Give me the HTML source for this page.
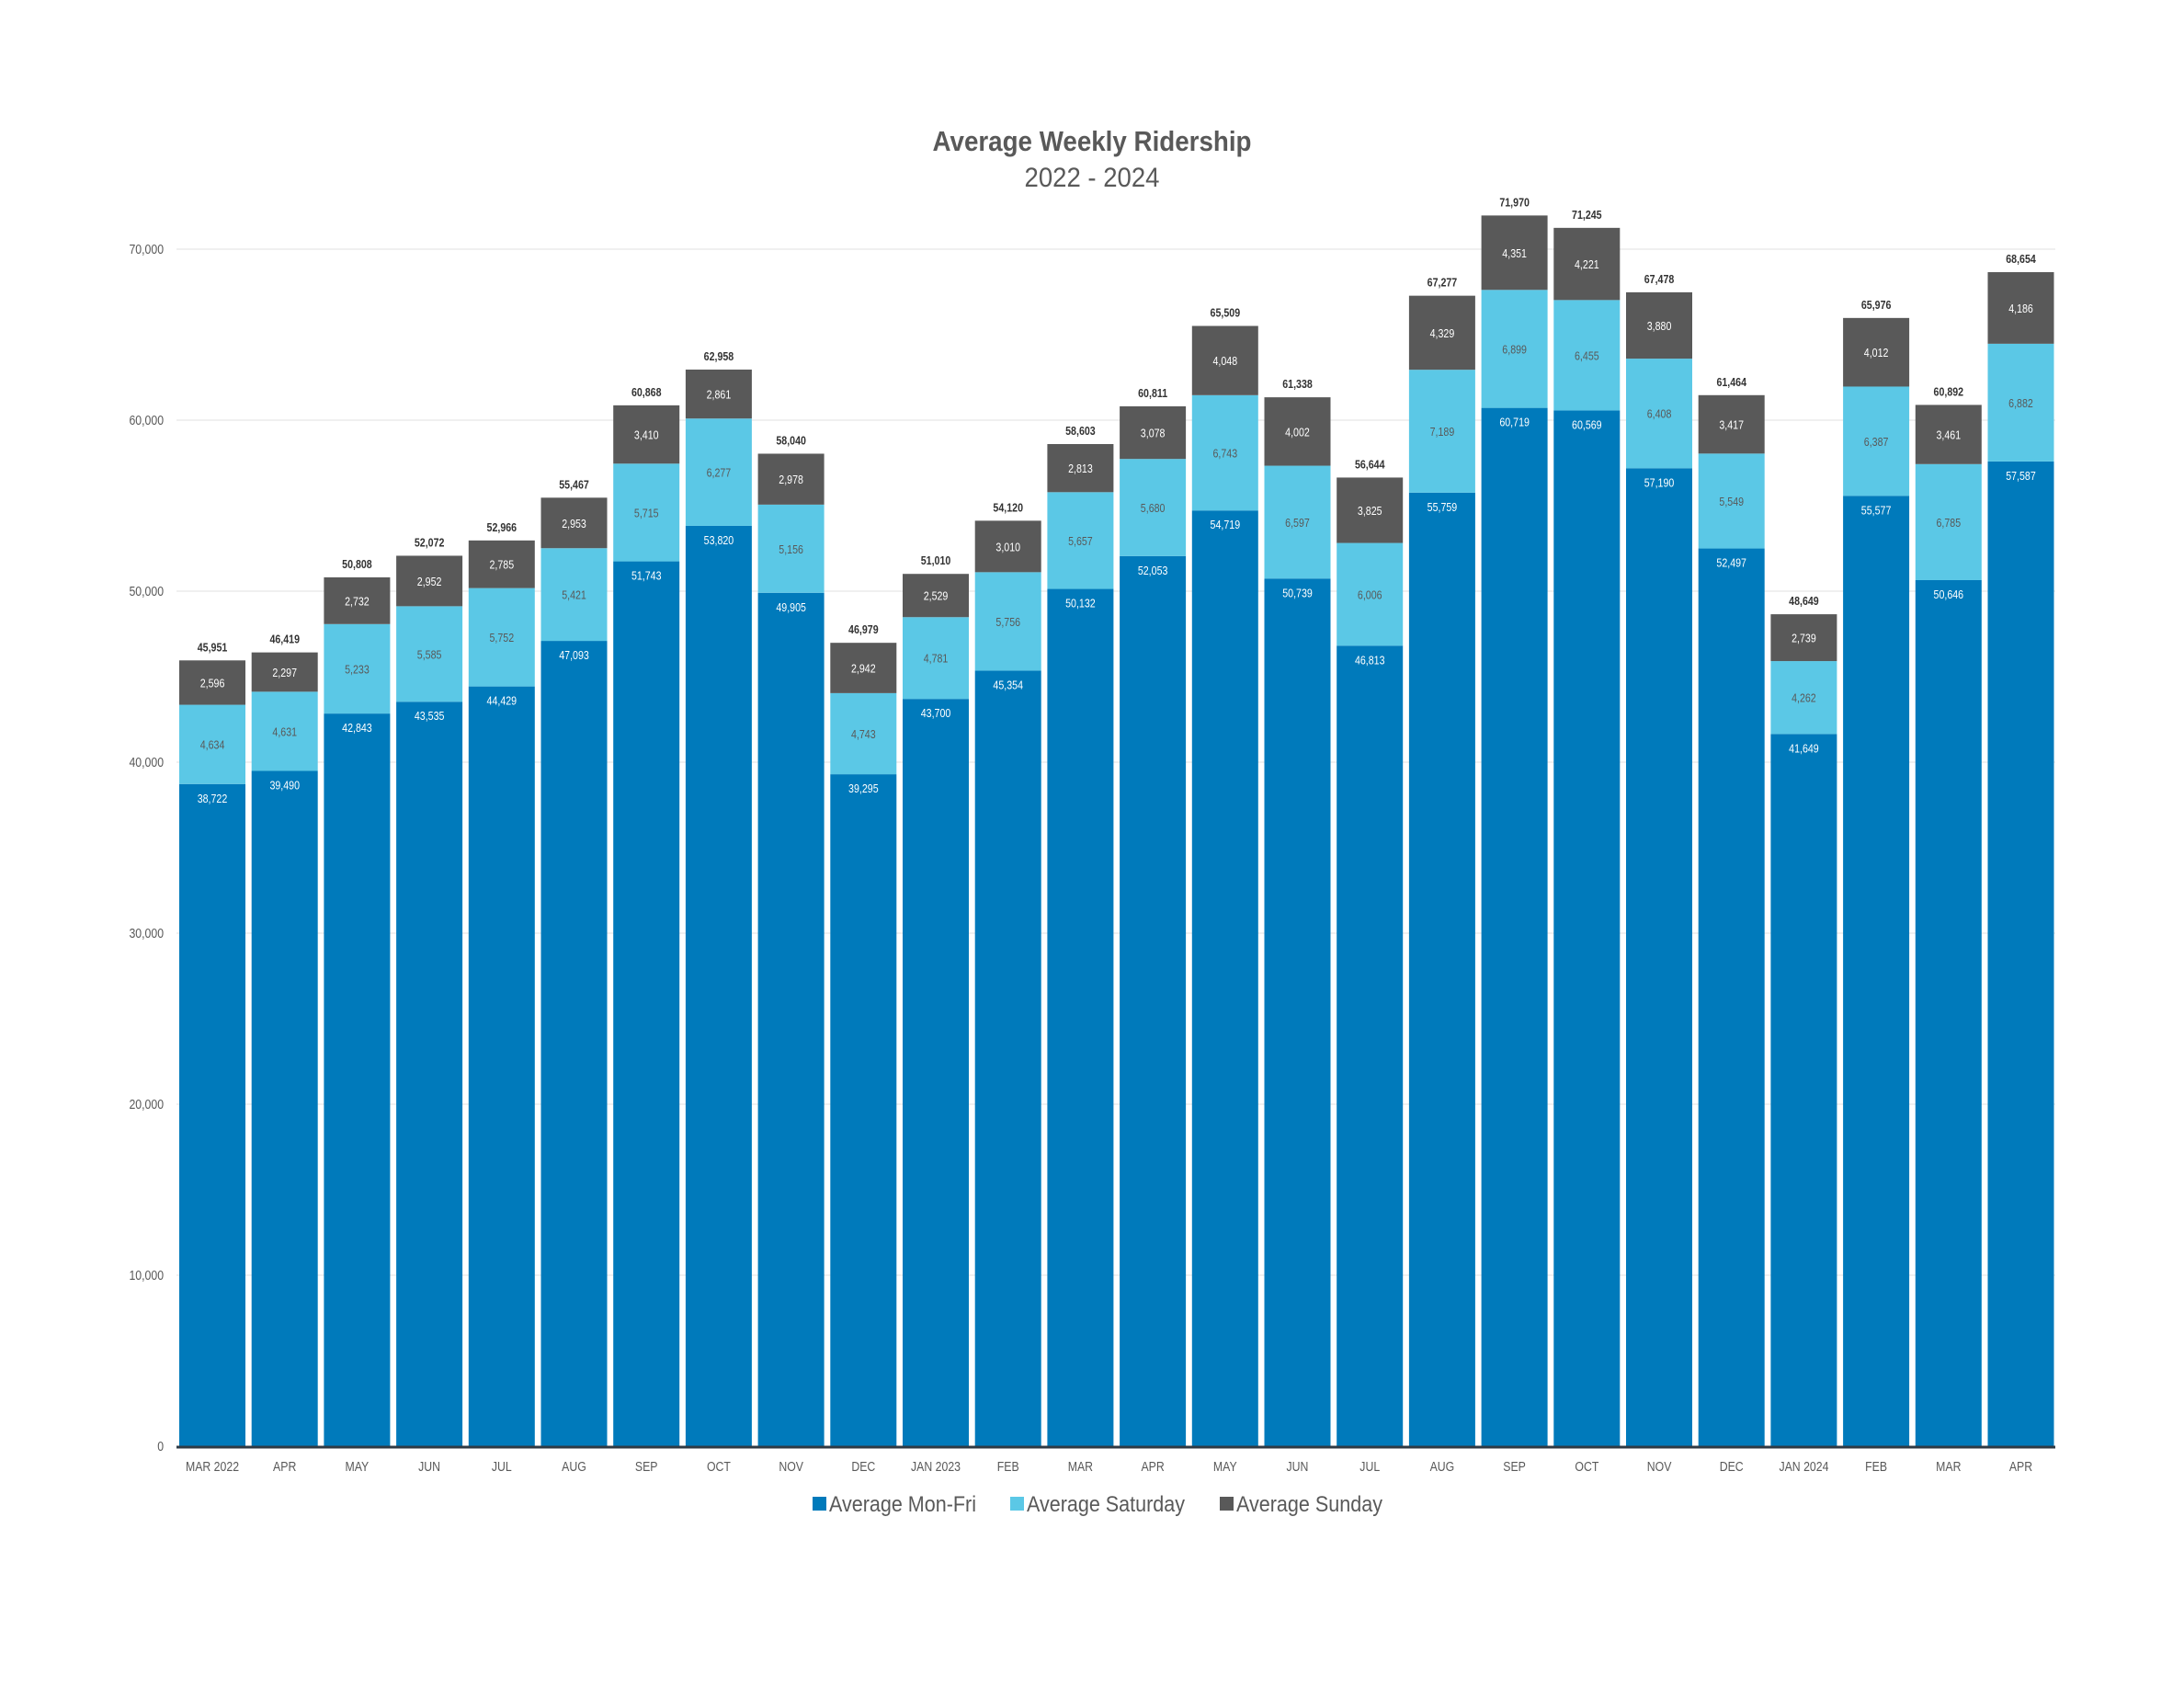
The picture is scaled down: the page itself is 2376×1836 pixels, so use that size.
<!DOCTYPE html>
<html><head><meta charset="utf-8"><style>
html,body{margin:0;padding:0;background:#fff;}
svg{display:block;font-family:"Liberation Sans Narrow","Liberation Sans",sans-serif;}
.n{transform-box:fill-box;transform-origin:center;transform:scaleX(0.82);}
</style></head><body>
<svg id="chart" width="2376" height="1836" viewBox="0 0 2376 1836">
<rect width="2376" height="1836" fill="#fff"/>
<text x="1188" y="164" text-anchor="middle" font-size="31" font-weight="bold" fill="#595959" textLength="347" lengthAdjust="spacingAndGlyphs">Average Weekly Ridership</text>
<text x="1188" y="203" text-anchor="middle" font-size="30" fill="#595959" textLength="147" lengthAdjust="spacingAndGlyphs">2022 - 2024</text>
<g id="grid"></g><g id="bars"></g><g id="labels"></g>
<g>
<rect x="884" y="1628" width="15" height="15" fill="#007ABB"/>
<text x="902" y="1644" font-size="24" fill="#595959" textLength="160" lengthAdjust="spacingAndGlyphs">Average Mon-Fri</text>
<rect x="1099" y="1628" width="15" height="15" fill="#5BC8E6"/>
<text x="1117" y="1644" font-size="24" fill="#595959" textLength="172" lengthAdjust="spacingAndGlyphs">Average Saturday</text>
<rect x="1327" y="1628" width="15" height="15" fill="#595959"/>
<text x="1345" y="1644" font-size="24" fill="#595959" textLength="159" lengthAdjust="spacingAndGlyphs">Average Sunday</text>
</g>
</svg>
<script>
const categories=["MAR 2022","APR","MAY","JUN","JUL","AUG","SEP","OCT","NOV","DEC","JAN 2023","FEB","MAR","APR","MAY","JUN","JUL","AUG","SEP","OCT","NOV","DEC","JAN 2024","FEB","MAR","APR"];
const monFri=[38722,39490,42843,43535,44429,47093,51743,53820,49905,39295,43700,45354,50132,52053,54719,50739,46813,55759,60719,60569,57190,52497,41649,55577,50646,57587];
const saturday=[4634,4631,5233,5585,5752,5421,5715,6277,5156,4743,4781,5756,5657,5680,6743,6597,6006,7189,6899,6455,6408,5549,4262,6387,6785,6882];
const sunday=[2596,2297,2732,2952,2785,2953,3410,2861,2978,2942,2529,3010,2813,3078,4048,4002,3825,4329,4351,4221,3880,3417,2739,4012,3461,4186];
const totals=[45951,46419,50808,52072,52966,55467,60868,62958,58040,46979,51010,54120,58603,60811,65509,61338,56644,67277,71970,71245,67478,61464,48649,65976,60892,68654];
const yTicks=[0,10000,20000,30000,40000,50000,60000,70000];
const NS="http://www.w3.org/2000/svg";
const y0=1573,pxPer=186/10000,x0=195,pitch=78.7,bw=72;
const Y=v=>y0-v*pxPer, X=i=>x0+i*pitch;
const fmt=v=>v.toLocaleString("en-US");
function mk(tag,attrs,parent,txt){const e=document.createElementNS(NS,tag);for(const k in attrs)e.setAttribute(k,attrs[k]);if(txt!==undefined)e.textContent=txt;parent.appendChild(e);return e;}
const grid=document.getElementById("grid"),bars=document.getElementById("bars"),labels=document.getElementById("labels");
yTicks.forEach(t=>{
  if(t>0){const l=mk("line",{x1:192,x2:2236,y1:Y(t),y2:Y(t),stroke:"#ececec","stroke-width":1.5},grid);
  
  }
  const tx=mk("text",{x:178,y:Y(t)+5,"text-anchor":"end","font-size":15,fill:"#595959",class:"n",style:"transform-origin:right center"},grid,fmt(t));
  
  
});
categories.forEach((c,i)=>{
  const x=X(i),cx=x+bw/2;
  const a=monFri[i],b=saturday[i],s=sunday[i];
  const r1=mk("rect",{x:x,y:Y(a),width:bw,height:a*pxPer,fill:"#007ABB"},bars);
  
  
  const r2=mk("rect",{x:x,y:Y(a+b),width:bw,height:b*pxPer,fill:"#5BC8E6"},bars);
  
  
  const r3=mk("rect",{x:x,y:Y(a+b+s),width:bw,height:s*pxPer,fill:"#595959"},bars);
  
  
  const l1=mk("text",{x:cx,y:Y(a)+20,"text-anchor":"middle","font-size":13,fill:"#fff",class:"n"},labels,fmt(a));
  
  
  const l2=mk("text",{x:cx,y:Y(a+b/2)+5,"text-anchor":"middle","font-size":13,fill:"#595959",class:"n"},labels,fmt(b));
  
  
  const l3=mk("text",{x:cx,y:Y(a+b+s/2)+5,"text-anchor":"middle","font-size":13,fill:"#fff",class:"n"},labels,fmt(s));
  
  
  const l4=mk("text",{x:cx,y:Y(totals[i])-10,"text-anchor":"middle","font-size":13,"font-weight":"bold",fill:"#333",class:"n"},labels,fmt(totals[i]));
  
  
  const xl=mk("text",{x:cx,y:1600,"text-anchor":"middle","font-size":15,fill:"#595959",class:"n"},labels,c);
  
  
});
const ax=mk("line",{x1:192,x2:2236,y1:y0+1,y2:y0+1,stroke:"#2f3a44","stroke-width":3},labels);


</script>
</body></html>
